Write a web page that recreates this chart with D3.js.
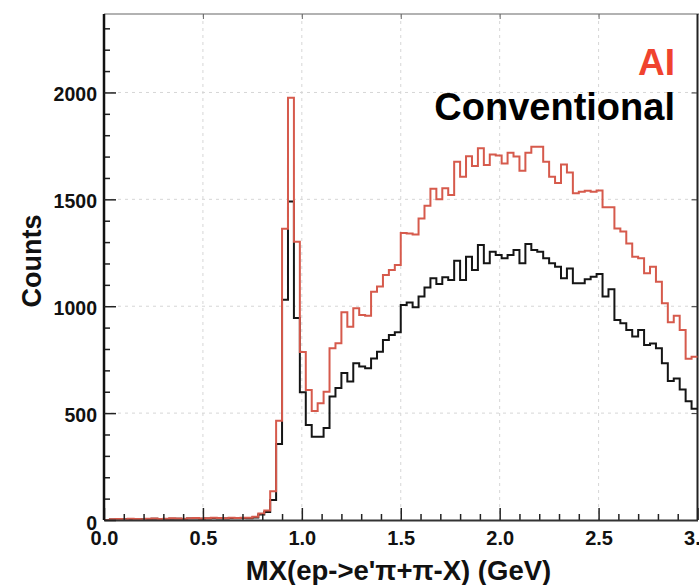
<!DOCTYPE html>
<html>
<head>
<meta charset="utf-8">
<script src="https://cdn.jsdelivr.net/npm/d3@7"></script>
<style>
  body { margin: 0; background: #fff; }
  svg { display: block; font-family: "Liberation Sans", Arial, sans-serif; font-weight: bold; }
</style>
</head>
<body>
<div id="chart"></div>
<script>
// histogram binning: 100 bins of 0.03 GeV from 0 to 3
const binLow = 0, binWidth = 0.03, nBins = 100;

// counts per bin
const aiCounts = [
    0, 3, 5, 4, 6, 5, 4, 6, 7, 5,
    6, 8, 7, 6, 8, 9, 7, 8, 10, 9,
    8, 10, 9, 11, 10, 15, 30, 45, 135, 464,
    1362, 1975, 1302, 786, 608, 510, 546, 600, 803, 827,
    972, 904, 990, 959, 955, 1068, 1092, 1146, 1170, 1193,
    1343, 1340, 1335, 1410, 1470, 1550, 1500, 1552, 1520, 1676,
    1606, 1702, 1656, 1739, 1661, 1710, 1705, 1668, 1718, 1700,
    1634, 1718, 1746, 1746, 1676, 1606, 1576, 1663, 1625, 1528,
    1536, 1540, 1536, 1541, 1463, 1463, 1364, 1349, 1294, 1232,
    1224, 1154, 1185, 1115, 1014, 925, 955, 889, 754, 764
];
const convCounts = [
    0, 2, 4, 3, 5, 4, 3, 5, 6, 4,
    5, 6, 6, 5, 7, 7, 6, 7, 8, 7,
    7, 8, 8, 9, 8, 12, 26, 38, 94, 355,
    1030, 1490, 945, 598, 444, 389, 390, 430, 578, 618,
    688, 648, 733, 718, 710, 756, 787, 842, 865, 878,
    1006, 1017, 995, 1045, 1088, 1131, 1104, 1135, 1123, 1213,
    1123, 1232, 1170, 1286, 1201, 1255, 1240, 1224, 1240, 1263,
    1201, 1291, 1263, 1255, 1224, 1201, 1185, 1131, 1177, 1107,
    1107, 1126, 1138, 1151, 1045, 1079, 936, 920, 889, 858,
    889, 819, 826, 803, 733, 650, 662, 610, 555, 520
];

const xMajor = [0, 0.5, 1.0, 1.5, 2.0, 2.5, 3.0];
const yMajor = [0, 500, 1000, 1500, 2000];

const width = 699, height = 585;
const pLeft = 104, pRight = 697.5, pTop = 14, pBottom = 520;

const svg = d3.select("#chart")
    .append("svg")
        .attr("width", width)
        .attr("height", height);

const x = d3.scaleLinear().domain([0, 3]).range([pLeft, pRight]);
const y = d3.scaleLinear().domain([0, 2367]).range([pBottom, pTop]);

// dotted grid at the major ticks
const grid = svg.append("g")
    .attr("stroke", "#d6d6d6")
    .attr("stroke-width", 1)
    .attr("stroke-dasharray", "3,4");
grid.selectAll(".gx")
    .data(xMajor.slice(1, -1))
    .enter().append("line")
        .attr("x1", d => x(d)).attr("x2", d => x(d))
        .attr("y1", pTop).attr("y2", pBottom);
grid.selectAll(".gy")
    .data(yMajor.slice(1))
    .enter().append("line")
        .attr("x1", pLeft).attr("x2", pRight)
        .attr("y1", d => y(d)).attr("y2", d => y(d));

// frame top + right
svg.append("line")
    .attr("x1", pLeft).attr("x2", width).attr("y1", pTop).attr("y2", pTop)
    .attr("stroke", "#999").attr("stroke-width", 1.5);
svg.append("line")
    .attr("x1", pRight).attr("x2", pRight).attr("y1", pTop).attr("y2", pBottom)
    .attr("stroke", "#222").attr("stroke-width", 2);

// top / right small ticks
svg.append("g")
    .attr("transform", `translate(0,${pTop})`)
    .call(d3.axisTop(x).tickValues(xMajor.slice(1, -1)).tickSize(-5).tickFormat(""))
    .call(g => g.select(".domain").remove())
    .selectAll("line").attr("stroke", "#666");
svg.append("g")
    .attr("transform", `translate(${pRight},0)`)
    .call(d3.axisRight(y).tickValues(yMajor.slice(1)).tickSize(-6).tickFormat(""))
    .call(g => g.select(".domain").remove())
    .selectAll("line").attr("stroke", "#333");

// histograms: step outline, conventional first so AI lies on top
const edges = d3.range(nBins + 1).map(i => binLow + i * binWidth);
const step = d3.line()
    .x(d => x(d[0]))
    .y(d => y(d[1]))
    .curve(d3.curveStepAfter);

function histPath(counts) {
    const pts = counts.map((c, i) => [edges[i], c]);
    pts.push([edges[nBins], counts[nBins - 1]]);
    return step(pts);
}

svg.append("path")
    .attr("d", histPath(convCounts))
    .attr("fill", "none")
    .attr("stroke", "#151515")
    .attr("stroke-width", 2);
svg.append("path")
    .attr("d", histPath(aiCounts))
    .attr("fill", "none")
    .attr("stroke", "#d65a4c")
    .attr("stroke-width", 2);

// x axis (ticks inside)
const xMinor = d3.range(31).map(i => i / 10).filter(v => !xMajor.includes(v));
svg.append("g")
    .attr("transform", `translate(0,${pBottom})`)
    .call(d3.axisBottom(x).tickValues(xMinor).tickSize(-6).tickFormat(""))
    .call(g => g.select(".domain").remove())
    .selectAll("line").attr("stroke", "#222").attr("stroke-width", 1.5);
const xAxis = svg.append("g")
    .attr("transform", `translate(0,${pBottom})`)
    .call(d3.axisBottom(x).tickValues(xMajor).tickSizeInner(-12).tickSizeOuter(0)
        .tickPadding(11).tickFormat(d3.format(".1f")));
xAxis.select(".domain").attr("stroke", "#333").attr("stroke-width", 2);
xAxis.selectAll("line").attr("stroke", "#222").attr("stroke-width", 1.5);
xAxis.selectAll("text")
    .attr("font-size", 20).attr("font-weight", "bold").attr("fill", "#111")
    .attr("font-family", "Liberation Sans, Arial, sans-serif");

// y axis
const yMinor = d3.range(0, 2400, 100).filter(v => !yMajor.includes(v));
svg.append("g")
    .attr("transform", `translate(${pLeft},0)`)
    .call(d3.axisLeft(y).tickValues(yMinor).tickSize(-6).tickFormat(""))
    .call(g => g.select(".domain").remove())
    .selectAll("line").attr("stroke", "#222").attr("stroke-width", 1.5);
const yAxis = svg.append("g")
    .attr("transform", `translate(${pLeft},0)`)
    .call(d3.axisLeft(y).tickValues(yMajor).tickSizeInner(-12).tickSizeOuter(0)
        .tickPadding(7).tickFormat(d3.format("d")));
yAxis.select(".domain").attr("stroke", "#111").attr("stroke-width", 2.5)
    .attr("d", `M0,${pTop}V${pBottom}`);
yAxis.selectAll("line").attr("stroke", "#222").attr("stroke-width", 1.5);
yAxis.selectAll("text")
    .attr("font-size", 19.5).attr("font-weight", "bold").attr("fill", "#111")
    .attr("font-family", "Liberation Sans, Arial, sans-serif")
    .attr("dy", d => d == 0 ? "0.47em" : "0.42em");

// titles
svg.append("text")
    .attr("transform", "translate(41,261) rotate(-90)")
    .attr("text-anchor", "middle")
    .attr("font-size", 27)
    .attr("fill", "#111")
    .text("Counts");
svg.append("text")
    .attr("x", 398.5).attr("y", 580)
    .attr("text-anchor", "middle")
    .attr("font-size", 27.5)
    .attr("fill", "#111")
    .text("MX(ep->e'π+π-X) (GeV)");

// legend
svg.append("text")
    .attr("x", 675).attr("y", 75)
    .attr("text-anchor", "end")
    .attr("font-size", 37)
    .attr("fill", "#f0432e")
    .text("AI");
svg.append("text")
    .attr("x", 675).attr("y", 120)
    .attr("text-anchor", "end")
    .attr("font-size", 38)
    .attr("fill", "#000")
    .text("Conventional");
</script>
</body>
</html>
